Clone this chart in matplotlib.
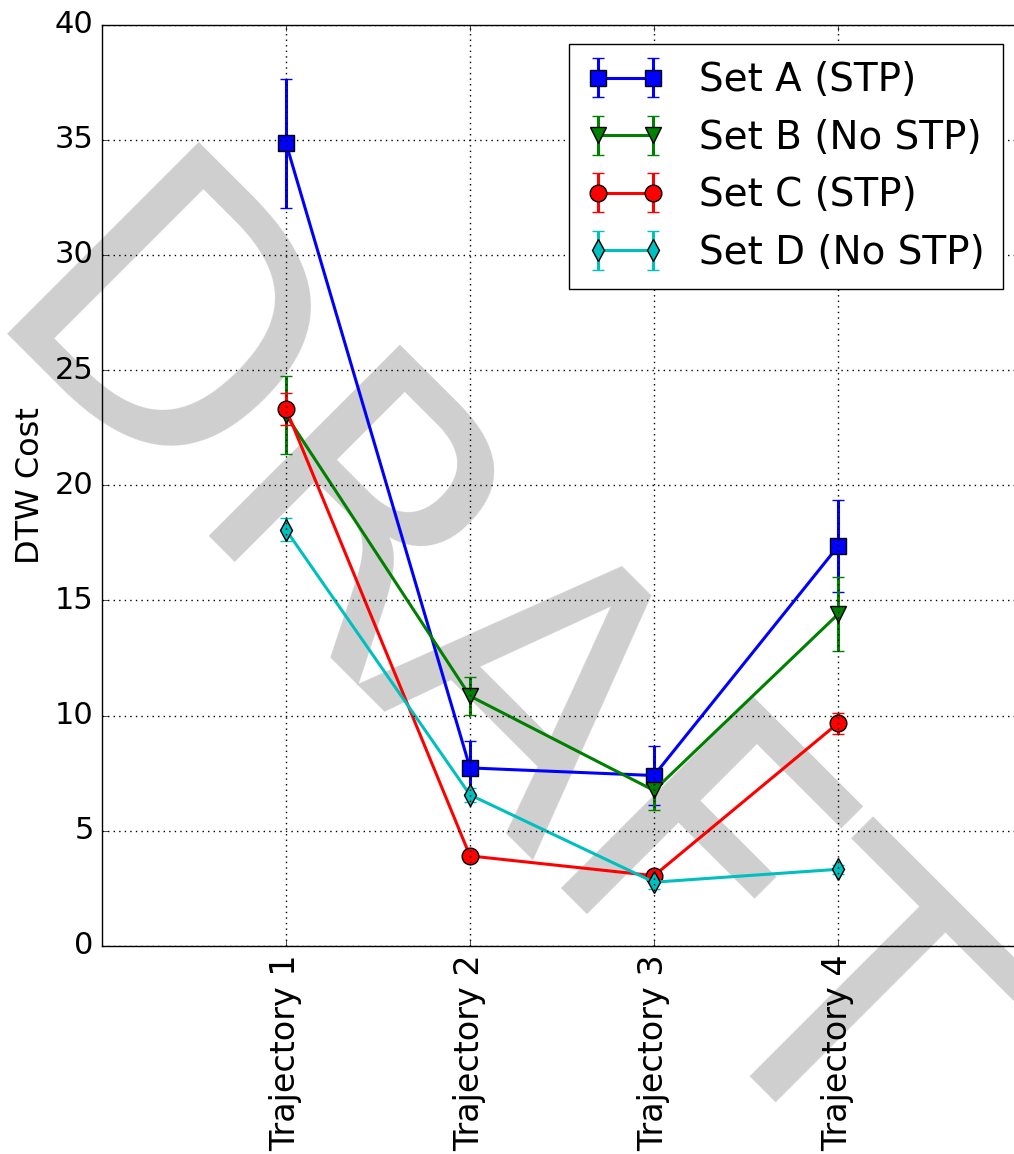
import matplotlib
matplotlib.use("Agg")
import matplotlib.pyplot as plt
import numpy as np

plt.style.use('classic')

categories = ["Trajectory 1", "Trajectory 2", "Trajectory 3", "Trajectory 4"]
series_names = ["Set A (STP)", "Set B (No STP)", "Set C (STP)", "Set D (No STP)"]
set_a = [34.85, 7.73, 7.40, 17.35]
set_a_err = [2.8, 1.15, 1.3, 2.0]
set_b = [23.05, 10.85, 6.75, 14.40]
set_b_err = [1.68, 0.83, 0.85, 1.6]
set_c = [23.31, 3.91, 3.05, 9.67]
set_c_err = [0.68, 0.25, 0.2, 0.45]
set_d = [18.06, 6.56, 2.77, 3.33]
set_d_err = [0.5, 0.3, 0.3, 0.2]
y_ticks = [0, 5, 10, 15, 20, 25, 30, 35, 40]

W, H = 1014, 1154
fig = plt.figure(figsize=(W / 100, H / 100), dpi=100, facecolor='white')
ax = fig.add_axes([102 / W, 208 / H, 920 / W, 921.5 / H])
ax.set_facecolor('none')

x = np.arange(1, len(categories) + 1)
styles = [('b', 's', 12), ('g', 'v', 12), ('r', 'o', 12), ('c', 'd', 11)]
for vals, errs, name, (col, mk, ms) in zip(
        [set_a, set_b, set_c, set_d],
        [set_a_err, set_b_err, set_c_err, set_d_err],
        series_names, styles):
    ax.errorbar(x, vals, yerr=errs, color=col, ecolor=col, marker=mk,
                markersize=ms, markeredgecolor='k', markeredgewidth=1.0,
                linewidth=2.2, elinewidth=2.2, capsize=4, capthick=1, label=name)

ax.set_xlim(0, 5)
ax.set_ylim(0, 40)
ax.set_xticks(x)
ax.set_xticklabels(categories, rotation=90, fontsize=24)
ax.set_yticks(y_ticks)
ax.tick_params(axis='y', labelsize=22, pad=6)
ax.tick_params(axis='x', pad=6)
ax.set_ylabel("DTW Cost", fontsize=23, labelpad=6)
ax.grid(True, color='k', linestyle=':', linewidth=1)

ax.legend(loc='upper right', fontsize=28, numpoints=2, fancybox=False,
          labelspacing=0.5, handlelength=2.0, handletextpad=0.9,
          borderpad=0.45, borderaxespad=0.5, framealpha=1.0)

fig.text(-30 / W, (H - 333) / H, "DRAFT", fontsize=268, color='0.81',
         rotation=-45, rotation_mode='anchor', ha='left', va='baseline',
         zorder=-1)

fig.savefig("out.png", dpi=100, facecolor='white')
